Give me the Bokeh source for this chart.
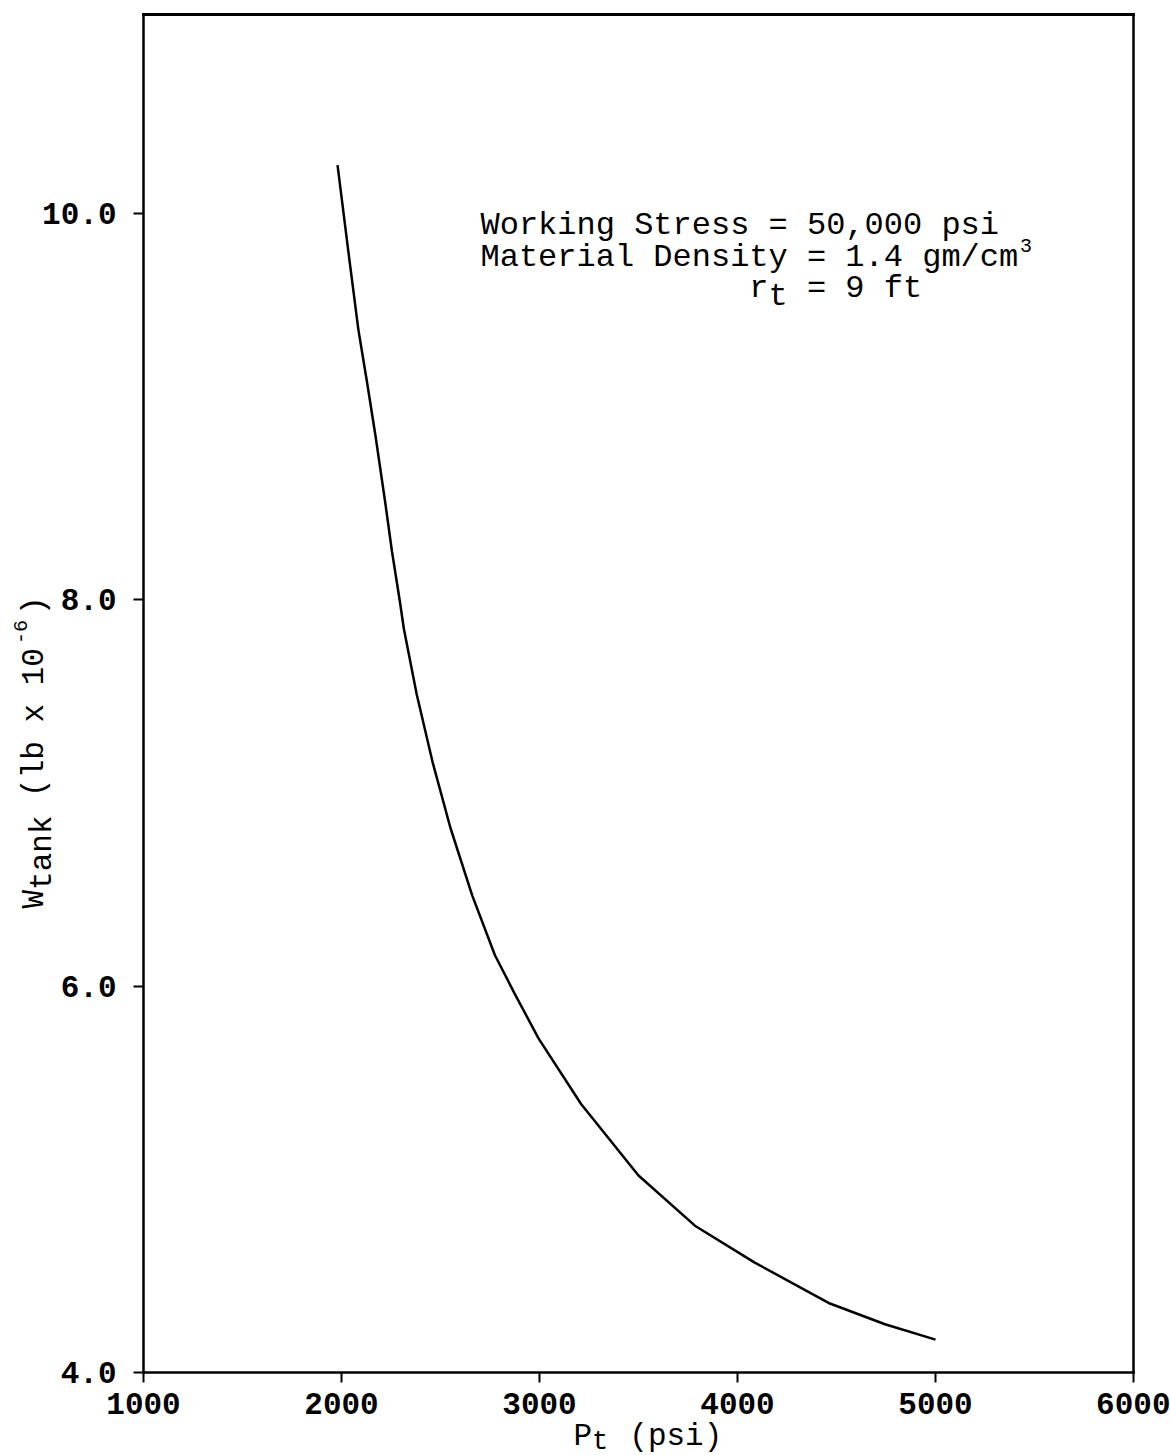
import numpy as np
from bokeh.plotting import figure
from bokeh.models import Label, Range1d, FixedTicker, PrintfTickFormatter, LinearAxis
from bokeh.embed import file_html
from bokeh.resources import INLINE

# ---- data ----
pressure_psi = [1980, 2035, 2085, 2130, 2170, 2220, 2255, 2295, 2315, 2380,
                2460, 2550, 2660, 2775, 2875, 2995, 3210, 3500, 3785, 4085,
                4460, 4745, 5000]
w_tank = [10.25, 9.80, 9.40, 9.12, 8.86, 8.51, 8.25, 7.99, 7.85, 7.51,
          7.16, 6.82, 6.47, 6.16, 5.96, 5.73, 5.39, 5.02, 4.76, 4.57,
          4.36, 4.25, 4.17]
x_ticks = [1000, 2000, 3000, 4000, 5000, 6000]
y_ticks = [4.0, 6.0, 8.0, 10.0]

annotation_lines = ["Working Stress = 50,000 psi", "Material Density = 1.4 gm/cm"]

# ---- layout (canvas pixels of the plot box) ----
W, H = 1170, 1455
BOX_L, BOX_R, BOX_T, BOX_B = 143, 1133, 14, 1372
X0, X1 = 1000, 6000
Y0, Y1 = 4.0, 11.03
SX = (X1 - X0) / (BOX_R - BOX_L)
SY = (Y1 - Y0) / (BOX_B - BOX_T)
XS, XE = X0 - BOX_L * SX, X1 + (W - BOX_R) * SX
YS, YE = Y0 - (H - BOX_B) * SY, Y1 + BOX_T * SY
FONT = "Liberation Mono"


def px2x(px):  # canvas px -> data x
    return XS + px * SX


def py2y(py):  # canvas px -> data y
    return YE - py * SY


p = figure(width=W, height=H, x_range=Range1d(XS, XE), y_range=Range1d(YS, YE),
           output_backend="svg", toolbar_location=None,
           min_border_left=0, min_border_right=0, min_border_top=0,
           min_border_bottom=0)
p.title = None
p.grid.visible = False
p.background_fill_color = "white"
p.border_fill_color = "white"
p.outline_line_color = None

x_ax = p.below[0]
y_ax = p.left[0]
x_ax.ticker = FixedTicker(ticks=x_ticks)
y_ax.ticker = FixedTicker(ticks=y_ticks)
x_ax.formatter = PrintfTickFormatter(format="%d")
y_ax.formatter = PrintfTickFormatter(format="%.1f")
x_ax.fixed_location = Y0
y_ax.fixed_location = X0
x_ax.bounds = (X0, X1)
y_ax.bounds = (Y0, Y1)

top_ax = LinearAxis(fixed_location=Y1, bounds=(X0, X1), ticker=FixedTicker(ticks=[]))
right_ax = LinearAxis(fixed_location=X1, bounds=(Y0, Y1), ticker=FixedTicker(ticks=[]))
p.add_layout(top_ax, "above")
p.add_layout(right_ax, "right")

for ax in (x_ax, y_ax, top_ax, right_ax):
    ax.axis_line_color = "black"
    ax.axis_line_width = 2.5
    ax.axis_line_cap = "square"
    ax.major_tick_line_color = "black"
    ax.major_tick_line_width = 2
    ax.major_tick_in = 0
    ax.major_tick_out = 10
    ax.minor_tick_line_color = None
    ax.major_label_text_font = FONT
    ax.major_label_text_font_size = "31px"
    ax.major_label_text_color = "black"
    ax.major_label_text_font_style = "bold"
top_ax.axis_line_width = 3
top_ax.major_tick_line_color = None
right_ax.major_tick_line_color = None
top_ax.major_label_text_color = None
right_ax.major_label_text_color = None
x_ax.major_label_standoff = 10
y_ax.major_label_standoff = 17

p.line(pressure_psi, w_tank, line_color="black", line_width=2.5)


def lab(px, py, text, size="31px", angle=0.0, style="normal"):
    p.add_layout(Label(x=px2x(px), y=py2y(py), text=text, text_font=FONT,
                       text_font_size=size, text_color="black",
                       text_font_style=style,
                       text_align="left", text_baseline="alphabetic",
                       angle=angle))


# annotation block (typewriter cells of 19.2 px)
CW = 19.2
AX = 480
lab(AX, 225, annotation_lines[0], "32px")
lab(AX, 257, annotation_lines[1], "32px")
lab(AX + 28 * CW + 2, 245, "3", "20px")
lab(AX + 14 * CW, 288, "r", "32px")
lab(AX + 15 * CW, 296, "t", "32px")
lab(AX + 17 * CW, 288, "= 9 ft", "32px")

# x-axis label: P_t (psi)
CX = 18.6
LX = 573
lab(LX, 1436, "P")
lab(LX + CX, 1441, "t", "27px")
lab(LX + 3 * CX, 1436, "(psi)")

# y-axis label: W_tank (lb x 10^-6), rotated
ang = np.pi / 2
YB = 908
BX = 34
lab(BX, YB, "W", angle=ang)
lab(BX + 8, YB - CX, "tank", angle=ang)
lab(BX, YB - 6 * CX, "(lb x 10", angle=ang)
lab(BX - 14, YB - 14 * CX - 4, "-6", "20px", angle=ang)
lab(BX, YB - 16 * CX + 4, ")", angle=ang)

open("out.html", "w").write(file_html(p, INLINE))
